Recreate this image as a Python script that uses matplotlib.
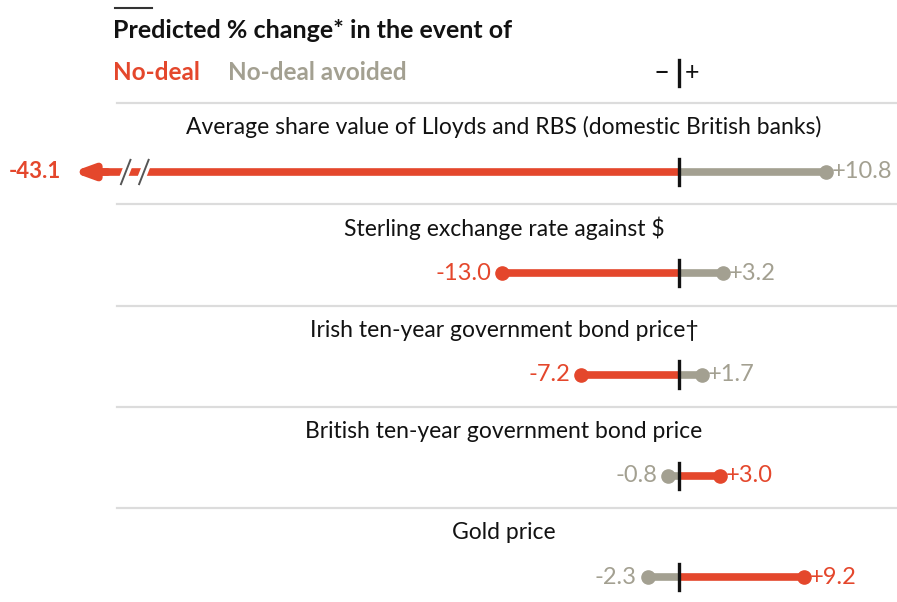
import matplotlib.pyplot as plt
from matplotlib.transforms import blended_transform_factory

# Data
categories = [
    "Average share value of Lloyds and RBS (domestic British banks)",
    "Sterling exchange rate against $",
    "Irish ten-year government bond price\u2020",
    "British ten-year government bond price",
    "Gold price",
]
no_deal = [-43.1, -13.0, -7.2, 3.0, 9.2]
no_deal_avoided = [10.8, 3.2, 1.7, -0.8, -2.3]

RED = "#E4472C"
GREY = "#A3A091"
BLACK = "#121212"

plt.rcParams['font.family'] = ['Lato', 'DejaVu Sans']

fig = plt.figure(figsize=(8.97, 6.02), dpi=100)
ax = fig.add_axes([0, 0, 1, 1])
ax.set_xlim(-49.93, 16.03)
ax.set_ylim(4.245, -1.698)
ax.axis('off')

xfrac = blended_transform_factory(ax.transAxes, ax.transData)


def fmt(v):
    return f"+{v:.1f}" if v > 0 else f"{v:.1f}"


def draw_seg(row, val, color, truncated=False):
    if truncated:
        # broken bar drawn with an arrow at the end
        end = val * 0.985
        ax.plot([0, end], [row, row], color=color, lw=5.5, solid_capstyle='butt', zorder=2)
        ax.annotate("", xy=(val * 1.035, row), xytext=(end * 0.99, row),
                    arrowprops=dict(arrowstyle='-|>,head_length=1.1,head_width=0.4',
                                    color=color, lw=5.5, shrinkA=0, shrinkB=0), zorder=2)
        for b in (val * 0.944, val * 0.913):
            ax.plot([b - 0.35, b + 0.35], [row + 0.12, row - 0.12], color='white', lw=6, zorder=3)
            ax.plot([b - 0.35, b + 0.35], [row + 0.12, row - 0.12], color='#555555', lw=1.4, zorder=4)
        ax.text(val * 1.054, row, fmt(val), color=color, fontsize=16, fontweight='bold',
                ha='right', va='center')
        return
    ax.plot([0, val], [row, row], color=color, lw=5.5, solid_capstyle='butt', zorder=2)
    ax.plot([val], [row], 'o', color=color, ms=9.5, zorder=2)
    if val > 0:
        ax.text(val + 0.45, row, fmt(val), color=color, fontsize=17, ha='left', va='center')
    else:
        ax.text(val - 0.8, row, fmt(val), color=color, fontsize=17, ha='right', va='center')


for i, name in enumerate(categories):
    ax.plot([0.13, 1.0], [i - 0.68, i - 0.68], transform=xfrac, color='#dcdcdc', lw=1.6)
    ax.text(0.562, i - 0.44, name, transform=xfrac, ha='center', va='center',
            fontsize=16.5, color=BLACK)
    draw_seg(i, no_deal[i], RED, truncated=(i == 0))
    draw_seg(i, no_deal_avoided[i], GREY)
    ax.plot([0, 0], [i - 0.13, i + 0.13], color=BLACK, lw=2.4, zorder=5)

# header
ax.plot([0.128, 0.17], [-1.62, -1.62], transform=xfrac, color='#333333', lw=1.5)
ax.text(0.126, -1.40, "Predicted % change* in the event of", transform=xfrac,
        fontsize=18, fontweight='bold', color=BLACK, va='center')
ax.text(0.126, -0.98, "No-deal", transform=xfrac, fontsize=17.5, fontweight='bold',
        color=RED, va='center')
ax.text(0.254, -0.98, "No-deal avoided", transform=xfrac, fontsize=17.5, fontweight='bold',
        color=GREY, va='center')
ax.plot([0, 0], [-1.11, -0.85], color=BLACK, lw=2.4)
ax.text(-0.7, -0.98, "\u2013", fontsize=20, ha='right', va='center', color=BLACK)
ax.text(0.4, -0.98, "+", fontsize=18, ha='left', va='center', color=BLACK)

fig.savefig("out.png", dpi=100, facecolor='white')
